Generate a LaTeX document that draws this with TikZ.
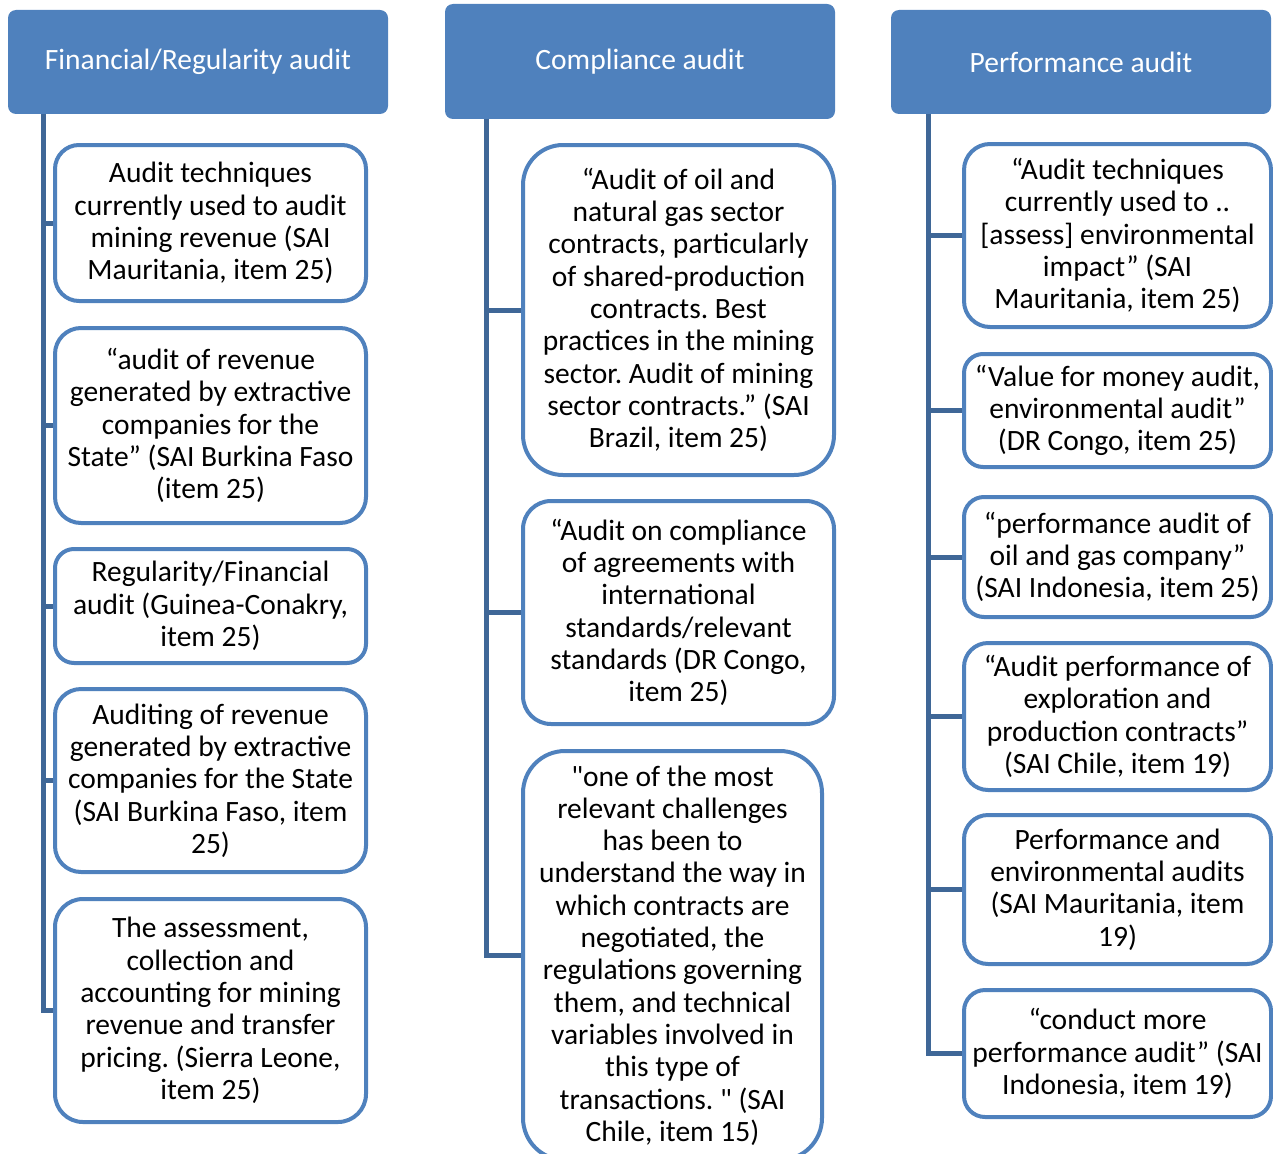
\documentclass[tikz,border=0pt]{standalone}
\usepackage{fontspec}
\setmainfont{Carlito}[Ligatures=TeXOff]
\frenchspacing
\definecolor{hdrblue}{HTML}{4F81BD}
\definecolor{lineblue}{HTML}{3F6797}
\tikzset{
  hdr/.style={rectangle, rounded corners=8pt, fill=hdrblue, draw=none, text=white,
    align=center, inner sep=0pt, font=\fontsize{29.5}{32.3}\selectfont},
  itembox/.style={rectangle, draw=hdrblue, line width=4pt, fill=white, align=center,
    inner sep=0pt, font=\fontsize{29.5}{32.3}\selectfont},
  conn/.style={draw=lineblue, line width=5pt},
}
\begin{document}
\begin{tikzpicture}[x=1pt,y=-1pt]
\useasboundingbox (0,0) rectangle (1273,1153);
\clip (0,0) rectangle (1273,1153);
% headers
\node[hdr, minimum width=380pt, minimum height=104pt] (h1) at (198,62) {Financial/Regularity audit};
\node[hdr, minimum width=390pt, minimum height=115pt] (h2) at (640,61.5) {Compliance audit};
\node[hdr, minimum width=380pt, minimum height=104pt] (h3) at (1081,62) {Performance audit};
% spine coordinates
\coordinate (s1) at (43,114);
\coordinate (s2) at (486,119);
\coordinate (s3) at (928,114);
% left column
\node[itembox, rounded corners=24pt, minimum width=311pt, minimum height=156pt] (b1) at (210.5,223)
  {Audit techniques\\currently used to audit\\mining revenue (SAI\\Mauritania, item 25)};
\node[itembox, rounded corners=26pt, minimum width=311pt, minimum height=195pt] (b2) at (210.5,425.5)
  {“audit of revenue\\generated by extractive\\companies for the\\State” (SAI Burkina Faso\\(item 25)};
\node[itembox, rounded corners=19pt, minimum width=311pt, minimum height=114pt] (b3) at (210.5,606)
  {Regularity/Financial\\audit (Guinea-Conakry,\\item 25)};
\node[itembox, rounded corners=26pt, minimum width=311pt, minimum height=183pt] (b4) at (210.5,780.5)
  {Auditing of revenue\\generated by extractive\\companies for the State\\(SAI Burkina Faso, item\\25)};
\node[itembox, rounded corners=28pt, minimum width=311pt, minimum height=223pt] (b5) at (210.5,1010.5)
  {The assessment,\\collection and\\accounting for mining\\revenue and transfer\\pricing. (Sierra Leone,\\item 25)};
% middle column
\node[itembox, rounded corners=40pt, minimum width=311pt, minimum height=330pt] (m1) at (678.5,310)
  {“Audit of oil and\\natural gas sector\\contracts, particularly\\of shared-production\\contracts. Best\\practices in the mining\\sector. Audit of mining\\sector contracts.” (SAI\\Brazil, item 25)};
\node[itembox, rounded corners=28pt, minimum width=311pt, minimum height=223pt] (m2) at (678.5,612.5)
  {“Audit on compliance\\of agreements with\\international\\standards/relevant\\standards (DR Congo,\\item 25)};
\node[itembox, rounded corners=42pt, minimum width=299pt, minimum height=409pt] (m3) at (672.5,955.5)
  {"one of the most\\relevant challenges\\has been to\\understand the way in\\which contracts are\\negotiated, the\\regulations governing\\them, and technical\\variables involved in\\this type of\\transactions. " (SAI\\Chile, item 15)};
% right column
\node[itembox, rounded corners=26pt, minimum width=307pt, minimum height=183pt] (r1) at (1117.5,235.5)
  {“Audit techniques\\currently used to ..\\{[}assess] environmental\\impact” (SAI\\Mauritania, item 25)};
\node[itembox, rounded corners=19pt, minimum width=307pt, minimum height=113pt] (r2) at (1117.5,410.5)
  {“Value for money audit,\\environmental audit”\\(DR Congo, item 25)};
\node[itembox, rounded corners=20pt, minimum width=307pt, minimum height=120pt] (r3) at (1117.5,557)
  {“performance audit of\\oil and gas company”\\(SAI Indonesia, item 25)};
\node[itembox, rounded corners=24pt, minimum width=307pt, minimum height=147pt] (r4) at (1117.5,716.5)
  {“Audit performance of\\exploration and\\production contracts”\\(SAI Chile, item 19)};
\node[itembox, rounded corners=24pt, minimum width=307pt, minimum height=149pt] (r5) at (1117.5,889.5)
  {Performance and\\environmental audits\\(SAI Mauritania, item\\19)};
\node[itembox, rounded corners=21pt, minimum width=307pt, minimum height=127pt] (r6) at (1117.5,1053.5)
  {“conduct more\\performance audit” (SAI\\Indonesia, item 19)};
% connectors
\draw[conn] (s1) |- (b5.west);
\foreach \b in {b1,b2,b3,b4} \draw[conn] (\b.west -| s1) -- (\b.west);
\draw[conn] (s2) |- (m3.west);
\foreach \b in {m1,m2} \draw[conn] (\b.west -| s2) -- (\b.west);
\draw[conn] (s3) |- (r6.west);
\foreach \b in {r1,r2,r3,r4,r5} \draw[conn] (\b.west -| s3) -- (\b.west);
\end{tikzpicture}
\end{document}
